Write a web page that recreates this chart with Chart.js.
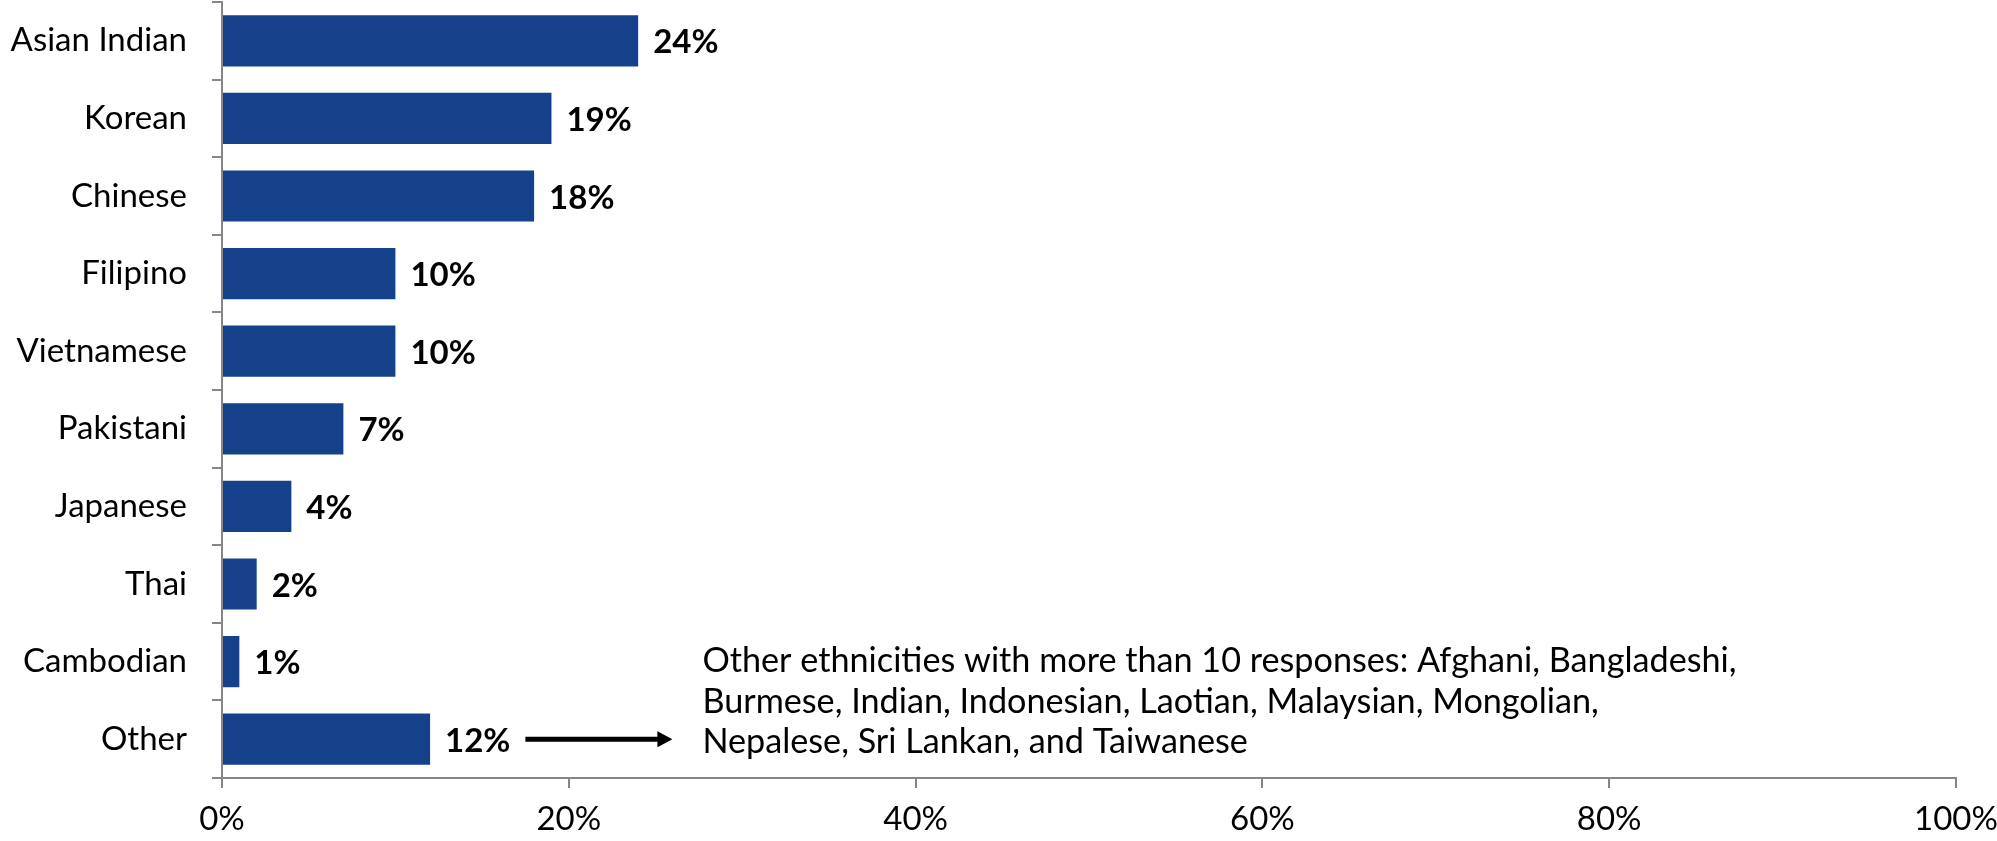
<!DOCTYPE html>
<html>
<head>
<meta charset="utf-8">
<title>Asian ethnicities</title>
<script src="https://cdn.jsdelivr.net/npm/chart.js@4/dist/chart.umd.min.js"></script>
<style>
  html, body { margin: 0; padding: 0; background: #fff; }
  #chart { display: block; }
</style>
</head>
<body>
<canvas id="chart" width="1997" height="841"></canvas>
<script>
// --- Dados ---
const categories = ['Asian Indian', 'Korean', 'Chinese', 'Filipino', 'Vietnamese',
                    'Pakistani', 'Japanese', 'Thai', 'Cambodian', 'Other'];
const shares = [24, 19, 18, 10, 10, 7, 4, 2, 1, 12];
const xTicks = [0, 20, 40, 60, 80, 100];
const noteLines = [
  'Other ethnicities with more than 10 responses: Afghani, Bangladeshi,',
  'Burmese, Indian, Indonesian, Laotian, Malaysian, Mongolian,',
  'Nepalese, Sri Lankan, and Taiwanese'
];

const FONT = 'Lato, "Open Sans", sans-serif';
const BAR_COLOR = '#14418a';
const AXIS_COLOR = '#868686';

// Rótulos de valor em negrito ao lado de cada barra + seta e nota na barra "Other"
const labelsPlugin = {
  id: 'valueLabels',
  afterDatasetsDraw(chart) {
    const ctx = chart.ctx;
    const meta = chart.getDatasetMeta(0);
    ctx.save();
    ctx.font = 'bold 33px ' + FONT;
    ctx.fillStyle = '#000';
    ctx.textAlign = 'left';
    ctx.textBaseline = 'middle';
    meta.data.forEach((bar, i) => {
      ctx.fillText(shares[i] + '%', bar.x + 15, bar.y + 2);
    });

    // seta a partir do rótulo da última barra
    const last = meta.data[meta.data.length - 1];
    const lastText = shares[shares.length - 1] + '%';
    const x0 = last.x + 15 + ctx.measureText(lastText).width + 15;
    const x1 = x0 + 147;
    const y = last.y;
    ctx.strokeStyle = '#000';
    ctx.lineWidth = 5;
    ctx.beginPath();
    ctx.moveTo(x0, y);
    ctx.lineTo(x1 - 12, y);
    ctx.stroke();
    ctx.beginPath();
    ctx.moveTo(x1, y);
    ctx.lineTo(x1 - 15, y - 8);
    ctx.lineTo(x1 - 15, y + 8);
    ctx.closePath();
    ctx.fill();

    // nota de texto
    ctx.font = '34.2px ' + FONT;
    const tx = x1 + 30;
    noteLines.forEach((line, i) => {
      ctx.fillText(line, tx, y + 3 + (i - 2) * 40.5);
    });
    ctx.restore();
  }
};

new Chart(document.getElementById('chart'), {
  type: 'bar',
  data: {
    labels: categories,
    datasets: [{
      data: shares,
      backgroundColor: BAR_COLOR,
      borderWidth: 0,
      barPercentage: 0.66,
      categoryPercentage: 1.0
    }]
  },
  options: {
    indexAxis: 'y',
    responsive: false,
    animation: false,
    devicePixelRatio: 1,
    layout: { padding: { top: 2, right: 41, left: 0, bottom: 0 } },
    plugins: { legend: { display: false }, tooltip: { enabled: false } },
    scales: {
      x: {
        min: 0,
        max: 100,
        afterBuildTicks: (scale) => { scale.ticks = xTicks.map(v => ({ value: v })); },
        afterFit: (scale) => {
          scale.height = 63;
          scale.paddingLeft = 0;
          scale.paddingRight = 0;
        },
        ticks: {
          callback: (v) => v + '%',
          color: '#000',
          font: { family: FONT, size: 33 },
          padding: 12,
          maxRotation: 0
        },
        grid: { drawOnChartArea: false, drawTicks: true, tickLength: 10, color: AXIS_COLOR, lineWidth: 2 },
        border: { color: AXIS_COLOR, width: 2 }
      },
      y: {
        afterFit: (scale) => {
          scale.width = 222;
          scale.paddingTop = 0;
          scale.paddingBottom = 0;
        },
        ticks: {
          color: '#000',
          font: { family: FONT, size: 33 },
          padding: 25
        },
        grid: { drawOnChartArea: false, drawTicks: true, tickLength: 10, color: AXIS_COLOR, lineWidth: 2, offset: true },
        border: { color: AXIS_COLOR, width: 2 }
      }
    }
  },
  plugins: [labelsPlugin]
});
</script>
</body>
</html>
